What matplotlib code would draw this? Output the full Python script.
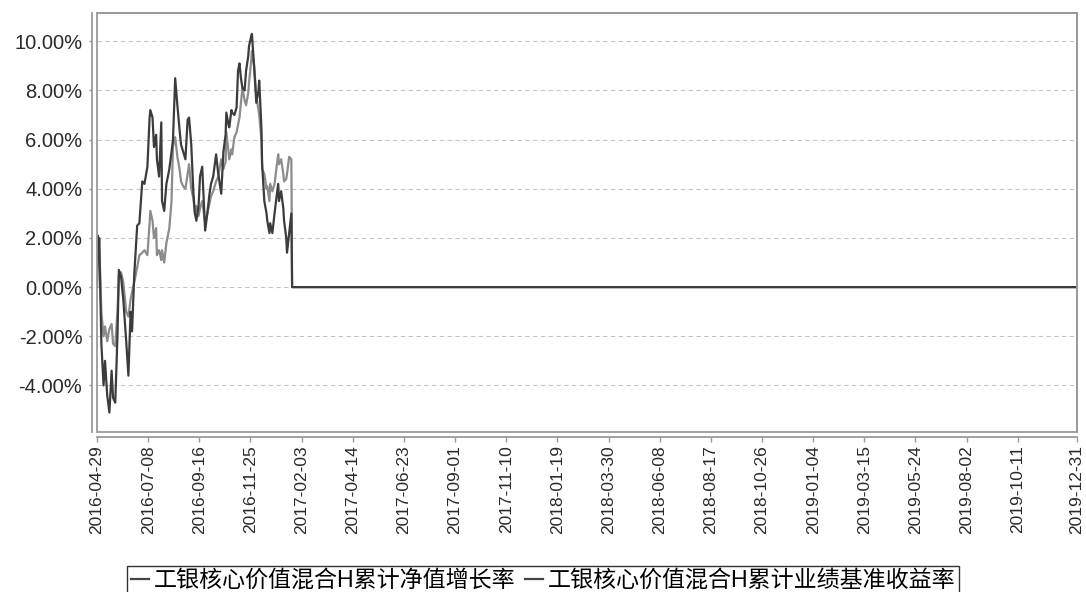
import matplotlib
matplotlib.use("Agg")
import matplotlib.pyplot as plt
from matplotlib.patches import Rectangle
import pandas as pd

plt.rcParams['font.family'] = ['Liberation Sans', 'Noto Sans CJK SC', 'DejaVu Sans']

# dates of the sampled points (fund started 2016-04-29)
dates = [
    "2016-04-29", "2016-04-30", "2016-05-01", "2016-05-02", "2016-05-05", "2016-05-08",
    "2016-05-10", "2016-05-13", "2016-05-16", "2016-05-19", "2016-05-21", "2016-05-24",
    "2016-05-27", "2016-05-29", "2016-06-01", "2016-06-04", "2016-06-08", "2016-06-11",
    "2016-06-14", "2016-06-16", "2016-06-19", "2016-06-23", "2016-06-26", "2016-06-30",
    "2016-07-03", "2016-07-07", "2016-07-10", "2016-07-11", "2016-07-14", "2016-07-16",
    "2016-07-19", "2016-07-20", "2016-07-23", "2016-07-26", "2016-07-27", "2016-07-30",
    "2016-08-02", "2016-08-06", "2016-08-09", "2016-08-11", "2016-08-14", "2016-08-17",
    "2016-08-20", "2016-08-22", "2016-08-25", "2016-08-28", "2016-08-31", "2016-09-02",
    "2016-09-05", "2016-09-08", "2016-09-10", "2016-09-12", "2016-09-15", "2016-09-17",
    "2016-09-20", "2016-09-24", "2016-09-27", "2016-09-30", "2016-10-02", "2016-10-05",
    "2016-10-09", "2016-10-12", "2016-10-16", "2016-10-19", "2016-10-22", "2016-10-23",
    "2016-10-26", "2016-10-27", "2016-10-30", "2016-10-31", "2016-11-03", "2016-11-06",
    "2016-11-08", "2016-11-10", "2016-11-12", "2016-11-14", "2016-11-17", "2016-11-19",
    "2016-11-22", "2016-11-23", "2016-11-26", "2016-11-27", "2016-11-30", "2016-12-03",
    "2016-12-06", "2016-12-07", "2016-12-10", "2016-12-11", "2016-12-14", "2016-12-17",
    "2016-12-18", "2016-12-21", "2016-12-22", "2016-12-25", "2016-12-28", "2016-12-30",
    "2017-01-02", "2017-01-03", "2017-01-06", "2017-01-09", "2017-01-10", "2017-01-13",
    "2017-01-14", "2017-01-17", "2017-01-20", "2017-01-21", "2019-12-31",
]

# 累计净值增长率 (%)
nav_growth = [
    0.0, 2.1, 1.2, 2.0, -2.3, -4.0,
    -3.0, -4.4, -5.1, -3.4, -4.5, -4.7,
    -2.0, 0.7, 0.4, -0.5, -2.2, -3.6,
    -1.0, -1.8, 0.5, 2.5, 2.6, 4.3,
    4.2, 4.9, 6.9, 7.2, 6.9, 5.7,
    6.2, 5.2, 4.5, 6.7, 3.5, 3.1,
    4.2, 4.8, 5.5, 6.0, 8.5, 7.4,
    6.4, 5.8, 5.5, 5.2, 6.8, 6.9,
    5.8, 3.8, 3.0, 2.7, 3.3, 4.5,
    4.9, 2.3, 3.0, 3.8, 4.2, 4.5,
    5.4, 4.6, 3.8, 5.5, 6.2, 7.1,
    6.6, 6.5, 7.2, 7.1, 7.0, 7.3,
    8.8, 9.1, 8.5, 8.1, 8.0, 8.8,
    9.4, 9.8, 10.2, 10.3, 9.0, 7.5,
    8.0, 8.4, 6.5, 5.0, 3.5, 3.0,
    2.7, 2.2, 2.6, 2.2, 3.0, 3.5,
    4.2, 3.5, 3.9, 3.2, 2.7, 2.0,
    1.4, 2.2, 3.0, 0.0, 0.0,
]

# 累计业绩基准收益率 (%)
bench_return = [
    0.0, 1.8, 1.6, 1.9, -1.0, -2.0,
    -1.6, -2.2, -1.7, -1.5, -2.3, -2.4,
    -1.0, 0.5, 0.6, 0.2, -1.0, -1.2,
    -0.5, -0.2, 0.2, 0.8, 1.3, 1.4,
    1.5, 1.3, 2.6, 3.1, 2.7, 2.0,
    2.4, 1.3, 1.5, 1.1, 1.5, 1.0,
    1.8, 2.4, 3.5, 5.7, 6.1, 5.3,
    4.8, 4.3, 4.1, 4.0, 4.6, 5.0,
    4.0, 3.6, 3.0, 3.3, 2.9, 3.2,
    3.5, 2.6, 3.0, 3.4, 3.7, 3.9,
    4.3, 4.5, 5.2, 4.8, 5.1, 6.3,
    5.5, 5.2, 5.6, 5.4, 6.1, 6.3,
    6.6, 6.9, 7.5, 8.1, 7.6, 7.4,
    7.9, 8.3, 9.2, 9.6, 9.0, 7.8,
    7.2, 7.0, 6.0, 4.8, 4.6, 4.0,
    4.1, 3.5, 4.2, 3.9, 4.2, 4.7,
    5.4, 5.0, 5.2, 4.6, 4.3, 4.4,
    4.6, 5.3, 5.2, 0.0, 0.0,
]

tick_labels = [
    "2016-04-29", "2016-07-08", "2016-09-16", "2016-11-25", "2017-02-03",
    "2017-04-14", "2017-06-23", "2017-09-01", "2017-11-10", "2018-01-19",
    "2018-03-30", "2018-06-08", "2018-08-17", "2018-10-26", "2019-01-04",
    "2019-03-15", "2019-05-24", "2019-08-02", "2019-10-11", "2019-12-31",
]
y_ticks = [-4, -2, 0, 2, 4, 6, 8, 10]

legend_labels = ["工银核心价值混合H累计净值增长率", "工银核心价值混合H累计业绩基准收益率"]

x = pd.to_datetime(dates)
ticks = pd.to_datetime(tick_labels)

fig = plt.figure(figsize=(10.86, 5.92), dpi=100)
ax = fig.add_axes([0.0893, 0.270, 0.9024, 0.708])

l2, = ax.plot(x, bench_return, color="#8c8c8c", lw=1.6)
l1, = ax.plot(x, nav_growth, color="#3c3c3c", lw=1.6)

ax.set_xlim(ticks[0], ticks[-1])
ax.set_ylim(-5.9, 11.15)

ax.set_yticks(y_ticks)
ax.set_yticklabels([f"{v:.2f}%" for v in y_ticks])
ax.set_xticks(ticks)
ax.set_xticklabels(tick_labels)

ax.grid(axis="y", color="#c4c4c4", ls=(0, (4, 3)), lw=0.8)
ax.set_axisbelow(True)

for s in ["left", "bottom"]:
    ax.spines[s].set_position(("outward", 3.6))
for s in ax.spines.values():
    s.set_color("#9a9a9a")
    s.set_linewidth(1.3)
ax.add_patch(Rectangle((0, 0), 1, 1, transform=ax.transAxes, fill=False,
                       edgecolor="#9a9a9a", lw=1.3, clip_on=False, zorder=5))

ax.tick_params(axis="y", length=2.5, width=1, color="#9a9a9a", pad=4.5,
               labelsize=14.5, labelcolor="#2a2a2a")
ax.tick_params(axis="x", length=3.6, width=1, color="#9a9a9a", pad=2,
               labelsize=12.5, labelcolor="#2a2a2a", labelrotation=90)

leg = fig.legend([l1, l2], legend_labels, loc="upper center",
                 bbox_to_anchor=(0.5, 0.044), ncol=2, frameon=True, fancybox=False,
                 edgecolor="black", fontsize=16.6, handlelength=0.8,
                 handletextpad=0.2, columnspacing=0.4, borderpad=0.15,
                 borderaxespad=0)
leg.get_frame().set_linewidth(1.0)
for h in leg.get_lines():
    h.set_color("#444444")

fig.savefig("out.png", dpi=100)
